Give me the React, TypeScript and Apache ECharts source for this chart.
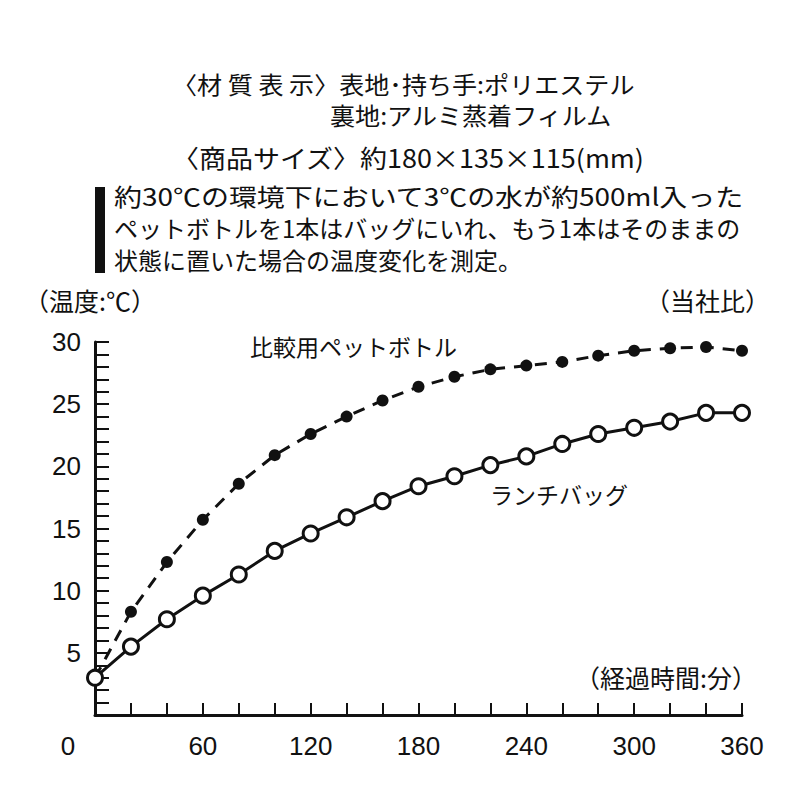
import React, { useEffect, useRef } from "react";
import * as echarts from "echarts";

const times = [0, 20, 40, 60, 80, 100, 120, 140, 160, 180, 200, 220, 240, 260, 280, 300, 320, 340, 360];
const bottleTemps = [3, 8.3, 12.3, 15.7, 18.6, 20.9, 22.6, 24.0, 25.3, 26.4, 27.2, 27.8, 28.1, 28.4, 28.9, 29.3, 29.5, 29.6, 29.3];
const bagTemps = [3, 5.5, 7.7, 9.6, 11.3, 13.2, 14.6, 15.9, 17.2, 18.4, 19.2, 20.1, 20.8, 21.8, 22.6, 23.1, 23.6, 24.3, 24.3];
const xLabelValues = [0, 60, 120, 180, 240, 300, 360];
const yLabelValues = [5, 10, 15, 20, 25, 30];

const seriesNames = ["比較用ペットボトル", "ランチバッグ"];
const headerLines = [
  "〈材 質 表 示〉表地･持ち手:ポリエステル",
  "裏地:アルミ蒸着フィルム",
  "〈商品サイズ〉約180×135×115(mm)",
];
const noteLines = [
  "約30℃の環境下において3℃の水が約500ml入った",
  "ペットボトルを1本はバッグにいれ、もう1本はそのままの",
  "状態に置いた場合の温度変化を測定。",
];
const yUnit = "（温度:℃）";
const xUnit = "（経過時間:分）";
const noteCorner = "（当社比）";

const JP = "'Noto Sans CJK JP', 'Noto Sans', sans-serif";
const NUM = "'Liberation Sans Narrow', 'Liberation Sans', Arial, sans-serif";

export default function App() {
  const ref = useRef<HTMLDivElement>(null);
  useEffect(() => {
    if (!ref.current) return;
    const chart = echarts.init(ref.current, null, { renderer: "svg" });
    const txt = (
      text: string,
      x: number,
      y: number,
      size = 24,
      align = "left",
      scaleX = 1
    ) => ({
      type: "text",
      x,
      y,
      scaleX,
      style: {
        text,
        x: 0,
        y: 0,
        fill: "#111",
        font: `${size}px ${JP}`,
        lineHeight: size + 2,
        textAlign: align,
        textVerticalAlign: "middle",
      },
    });
    chart.setOption({
      animation: false,
      backgroundColor: "#fff",
      grid: { left: 95, right: 58, top: 342, bottom: 85, containLabel: false },
      xAxis: {
        type: "value",
        min: 0,
        max: 360,
        interval: 20,
        axisLine: { show: true, lineStyle: { color: "#111", width: 3 } },
        axisTick: { show: true, inside: true, length: 12, lineStyle: { color: "#111", width: 2 } },
        splitLine: { show: false },
        axisLabel: {
          margin: 18,
          color: "#111",
          fontSize: 26,
          fontFamily: NUM,
          formatter: (v: number) =>
            v === 0 ? "{o|0}" : xLabelValues.includes(v) ? String(v) : "",
          rich: { o: { padding: [0, 54, 0, 0], fontSize: 26, fontFamily: NUM, color: "#111" } },
        },
      },
      yAxis: {
        type: "value",
        min: 0,
        max: 30,
        interval: 1,
        axisLine: { show: true, lineStyle: { color: "#111", width: 3 } },
        axisTick: { show: true, inside: true, length: 14, lineStyle: { color: "#111", width: 2 } },
        splitLine: { show: false },
        axisLabel: {
          margin: 14,
          color: "#111",
          fontSize: 26,
          fontFamily: NUM,
          formatter: (v: number) => (yLabelValues.includes(v) ? String(v) : ""),
        },
      },
      series: [
        {
          name: seriesNames[0],
          type: "line",
          data: times.map((t, i) => [t, bottleTemps[i]]),
          symbol: "circle",
          symbolSize: 12,
          itemStyle: { color: "#111", borderWidth: 0 },
          lineStyle: { color: "#111", width: 3, type: [12, 9] },
          z: 2,
        },
        {
          name: seriesNames[1],
          type: "line",
          data: times.map((t, i) => [t, bagTemps[i]]),
          symbol: "circle",
          symbolSize: 15,
          showAllSymbol: true,
          itemStyle: { color: "#fff", borderColor: "#111", borderWidth: 3 },
          lineStyle: { color: "#111", width: 3 },
          z: 3,
        },
      ],
      graphic: [
        txt(headerLines[0], 172, 84, 24, "left", 1.045),
        txt(headerLines[1], 330, 115, 24, "left", 1.045),
        txt(headerLines[2], 172, 157, 25, "left", 1.08),
        { type: "rect", shape: { x: 95, y: 187, width: 10, height: 86 }, style: { fill: "#111" } },
        txt(noteLines[0], 114, 196, 24, "left", 1.165),
        txt(noteLines[1], 114, 227),
        txt(noteLines[2], 114, 259),
        txt(yUnit, 24, 300, 25),
        txt(noteCorner, 770, 300, 25, "right"),
        txt(xUnit, 757, 677, 25, "right"),
        txt(seriesNames[0], 250, 346, 23),
        txt(seriesNames[1], 490, 494, 23),
      ],
    });
    return () => chart.dispose();
  }, []);
  return (
    <div
      ref={ref}
      style={{ position: "fixed", left: 0, top: 0, width: 800, height: 800, background: "#fff" }}
    />
  );
}
